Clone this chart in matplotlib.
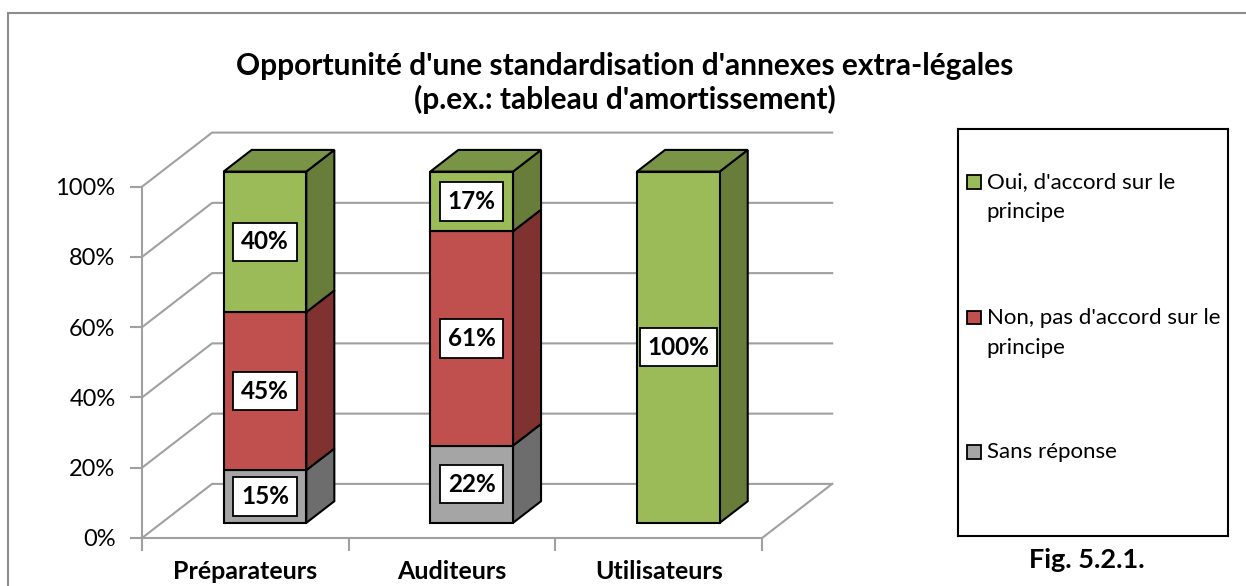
import matplotlib
matplotlib.use("Agg")
import matplotlib.pyplot as plt
from matplotlib.patches import Polygon, Rectangle

plt.rcParams['font.family'] = ['Lato', 'DejaVu Sans']

TITLE = "Opportunité d'une standardisation d'annexes extra-légales\n(p.ex.: tableau d'amortissement)"
FIG_LABEL = "Fig. 5.2.1."

categories = ["Préparateurs", "Auditeurs", "Utilisateurs"]
# stacked bottom -> top
series_names = ["Sans réponse",
                "Non, pas d'accord sur le\nprincipe",
                "Oui, d'accord sur le\nprincipe"]
sans_reponse = [15, 22, 0]
non_accord = [45, 61, 0]
oui_accord = [40, 17, 100]
y_ticks = [0, 20, 40, 60, 80, 100]

# face colours per series: front, side, top
FRONT = ["#A5A5A5", "#C0504D", "#9BBB59"]
SIDE = ["#6D6D6D", "#7F3230", "#687D3A"]
TOP = ["#838383", "#9A403D", "#7A9447"]
GRID = "#A0A0A0"

W, H = 1246, 586
DX, DY = 0.339, 15.4      # oblique depth of the walls, in data units
D0, D1 = 0.28, 0.68       # bar front / back as fraction of the depth
BAR_W = 0.40

fig = plt.figure(figsize=(W / 100, H / 100), dpi=100)

# outer chart frame (runs off the right and bottom edges like the source)
fig.add_artist(Rectangle((8 / W, -0.1), 1.2, (H - 13) / H + 0.1,
                         transform=fig.transFigure, fill=False,
                         ec="#8C8C8C", lw=1.5))

ax = fig.add_axes([142 / W, 48 / H, 3.35 * 206.7 / W, 116 * 3.513 / H])
ax.set_xlim(0, 3.35)
ax.set_ylim(0, 116)
ax.patch.set_visible(False)

for side in ("top", "right"):
    ax.spines[side].set_visible(False)
ax.spines["left"].set_bounds(0, 100)
ax.spines["bottom"].set_bounds(0, len(categories))
for side in ("left", "bottom"):
    ax.spines[side].set_color(GRID)
    ax.spines[side].set_linewidth(1.5)

ax.set_yticks(y_ticks)
ax.set_yticklabels([f"{v}%" for v in y_ticks])
ax.tick_params(axis="y", length=9, width=1.5, color=GRID, pad=10,
               labelsize=17, labelcolor="black")

ax.set_xticks(range(len(categories) + 1))
ax.set_xticklabels([])
ax.set_xticks([i + 0.5 for i in range(len(categories))], minor=True)
ax.set_xticklabels(categories, minor=True)
ax.tick_params(axis="x", which="major", length=9, width=1.5, color=GRID)
ax.tick_params(axis="x", which="minor", length=0, pad=16, labelsize=18)
for lbl in ax.get_xticklabels(minor=True):
    lbl.set_fontweight("bold")

# back wall / side wall gridlines
n = len(categories)
for v in y_ticks:
    ax.plot([0, DX, n + DX], [v, v + DY, v + DY], color=GRID, lw=1.5,
            zorder=1, clip_on=False, solid_joinstyle="miter")
ax.plot([n, n + DX], [0, DY], color=GRID, lw=1.5, zorder=1, clip_on=False)

# 3D stacked bars
series = [sans_reponse, non_accord, oui_accord]
dd = D1 - D0
for i in range(n):
    base = 0
    vals = [s[i] for s in series]
    top_idx = max(k for k, v in enumerate(vals) if v > 0)
    for k, v in enumerate(vals):
        if v <= 0:
            continue
        x0 = i + 0.5 - BAR_W / 2 + D0 * DX
        x1 = x0 + BAR_W
        b = base + D0 * DY
        t = base + v + D0 * DY
        z = 3 + k
        front = Polygon([(x0, b), (x1, b), (x1, t), (x0, t)], closed=True,
                        fc=FRONT[k], ec="black", lw=1.5, zorder=z,
                        joinstyle="miter")
        side_f = Polygon([(x1, b), (x1 + dd * DX, b + dd * DY),
                          (x1 + dd * DX, t + dd * DY), (x1, t)], closed=True,
                         fc=SIDE[k], ec="black", lw=1.5, zorder=z,
                         joinstyle="miter")
        ax.add_patch(side_f)
        ax.add_patch(front)
        if k == top_idx:
            top_f = Polygon([(x0, t), (x1, t), (x1 + dd * DX, t + dd * DY),
                             (x0 + dd * DX, t + dd * DY)], closed=True,
                            fc=TOP[k], ec="black", lw=1.5, zorder=z,
                            joinstyle="miter")
            ax.add_patch(top_f)
        ax.text((x0 + x1) / 2, (b + t) / 2, f"{v}%", ha="center",
                va="center", fontsize=17.5, fontweight="bold", zorder=20,
                bbox=dict(boxstyle="square,pad=0.32", fc="white",
                          ec="black", lw=1.3))
        base += v

# legend box
lx0, ly_top, lw_px, lh_px = 957.7, 129.3, 270.3, 406.7
lax = fig.add_axes([lx0 / W, (H - ly_top - lh_px) / H, lw_px / W, lh_px / H])
lax.set_xlim(0, lw_px)
lax.set_ylim(lh_px, 0)
lax.set_xticks([])
lax.set_yticks([])
for sp in lax.spines.values():
    sp.set_color("black")
    sp.set_linewidth(1.5)

entry_y = [452, 317.5, 182]   # pixel centre of first line, per series
for k in reversed(range(len(series_names))):
    yc = entry_y[k] - ly_top
    lax.add_patch(Rectangle((9.5, yc - 7), 13.5, 13.5, fc=FRONT[k],
                            ec="black", lw=1.3))
    for j, line in enumerate(series_names[k].split("\n")):
        lax.text(29, yc + j * 30, line, ha="left", va="center", fontsize=16)

fig.text(1087 / W, (H - 560) / H, FIG_LABEL, ha="center", va="center",
         fontsize=19.5, fontweight="bold")
fig.text(625 / W, (H - 83) / H, TITLE, ha="center", va="center",
         fontsize=21.5, fontweight="bold", linespacing=1.2)

fig.savefig("out.png", dpi=100)
